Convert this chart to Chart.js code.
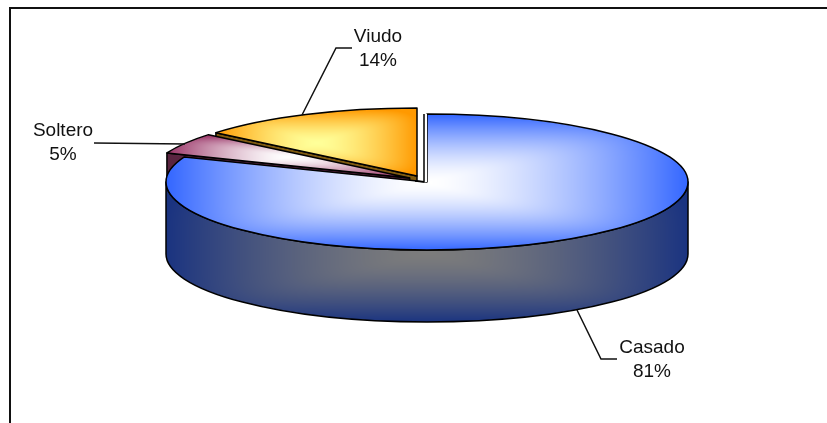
<!DOCTYPE html>
<html>
<head>
<meta charset="utf-8">
<title>Estado civil</title>
<script src="https://cdn.jsdelivr.net/npm/chart.js@4/dist/chart.umd.min.js"></script>
<style>
    html, body { margin: 0; padding: 0; background: #fff; }
    canvas { display: block; }
</style>
</head>
<body>
<canvas id="pieChart" width="827" height="423"></canvas>
<script>
// Chart data
const categories = ['Casado', 'Soltero', 'Viudo'];
const percentages = [81, 5, 14];

// Pie geometry: ellipse centre, radii and height of the wall
const CENTER_X = 427;
const CENTER_Y = 182;
const RADIUS_X = 261;
const RADIUS_Y = 68;
const DEPTH = 72;
const SQUASH = RADIUS_Y / RADIUS_X;

// Exploded slices, pixels from the centre
const sliceShift = [[0, 0], [-17.4, -4], [-10, -6]];
// Bounding boxes of the shaded faces
const topBoxes = [[166, 114, 522, 136], [167, 135, 243, 43], [216, 109, 201, 67]];
const wallBox = [166, 182, 522, 140];
const topColors = [
    [[255, 255, 255], [51, 102, 255]],
    [[255, 255, 255], [153, 51, 102]],
    [[255, 255, 153], [255, 153, 0]]
];
const wallColors = [[124, 124, 124], [26, 51, 128]];
const cutFaceColors = ['#1a3380', '#5a2440', '#7f5a10'];

// Label text positions and leader lines
const labelPos = [[652, 353], [63, 136], [378, 42]];
const leaderLines = [
    [[577, 310], [601, 359], [617, 359]],
    [[94, 143], [185, 144]],
    [[302, 115], [336, 48], [352, 48]]
];

// Rounded-box "from centre" gradient, painted into a small canvas
function boxGradient(box, inner, outer) {
    const w = box[2], h = box[3];
    const tile = document.createElement('canvas');
    tile.width = w;
    tile.height = h;
    const tileCtx = tile.getContext('2d');
    const img = tileCtx.createImageData(w, h);
    for (let y = 0; y < h; y++) {
        for (let x = 0; x < w; x++) {
            const u = Math.abs(2 * x / w - 1);
            const v = Math.abs(2 * y / h - 1);
            const d = Math.pow(Math.pow(u, 6) + Math.pow(v, 6), 1 / 6);
            // stays pale around the middle and darkens towards the rim
            const t = Math.pow(Math.min(1, d), 1.5);
            const p = (y * w + x) * 4;
            for (let c = 0; c < 3; c++) {
                img.data[p + c] = inner[c] + (outer[c] - inner[c]) * t;
            }
            img.data[p + 3] = 255;
        }
    }
    tileCtx.putImageData(img, 0, 0);
    return document.createElement('canvas').getContext('2d').createPattern(tile, 'no-repeat');
}

// The top faces are drawn under a vertical squash, so undo it for the pattern
const topFills = topBoxes.map((box, i) => {
    const pattern = boxGradient(box, topColors[i][0], topColors[i][1]);
    const matrix = new DOMMatrix()
        .translate(box[0] - sliceShift[i][0], CENTER_Y + (box[1] - CENTER_Y - sliceShift[i][1]) / SQUASH)
        .scale(1, 1 / SQUASH);
    pattern.setTransform(matrix);
    return pattern;
});
const wallFill = boxGradient(wallBox, wallColors[0], wallColors[1]);
wallFill.setTransform(new DOMMatrix().translate(wallBox[0], wallBox[1]));

function wallPath(ctx, x, y) {
    ctx.beginPath();
    ctx.ellipse(x, y, RADIUS_X, RADIUS_Y, 0, 0, Math.PI);
    ctx.lineTo(x - RADIUS_X, y + DEPTH);
    ctx.ellipse(x, y + DEPTH, RADIUS_X, RADIUS_Y, 0, Math.PI, 0, true);
    ctx.closePath();
}

// Flat face where a slice was cut away from the rest of the pie
function drawCutFace(ctx, x, y, angle, color) {
    const ex = x + RADIUS_X * Math.cos(angle);
    const ey = y + RADIUS_Y * Math.sin(angle);
    ctx.beginPath();
    ctx.moveTo(x, y);
    ctx.lineTo(ex, ey);
    ctx.lineTo(ex, ey + DEPTH);
    ctx.lineTo(x, y + DEPTH);
    ctx.closePath();
    ctx.fillStyle = color;
    ctx.fill();
    ctx.stroke();
}

function drawSlice(ctx, arc, i) {
    const x = arc.x + sliceShift[i][0];
    const y = arc.y + sliceShift[i][1];

    ctx.lineWidth = 1.5;
    ctx.strokeStyle = '#000';
    ctx.lineJoin = 'round';

    if (i === 0) {
        wallPath(ctx, x, y);
        ctx.fillStyle = wallFill;
        ctx.fill();
        ctx.stroke();
    } else {
        drawCutFace(ctx, x, y, arc.startAngle, cutFaceColors[i]);
    }

    // Top face comes from the library's own arc element
    ctx.save();
    ctx.translate(x, y);
    ctx.scale(1, SQUASH);
    ctx.translate(-arc.x, -arc.y);
    arc.draw(ctx);
    ctx.restore();

    ctx.beginPath();
    ctx.moveTo(x, y);
    ctx.ellipse(x, y, RADIUS_X, RADIUS_Y, 0, arc.startAngle, arc.endAngle);
    ctx.closePath();
    ctx.stroke();

    if (i === 0) {
        // thin white edge along the vertical cut of the big slice
        ctx.fillStyle = '#fff';
        ctx.fillRect(x - 3, y - RADIUS_Y, 3, RADIUS_Y);
        ctx.beginPath();
        ctx.moveTo(x - 3, y - RADIUS_Y);
        ctx.lineTo(x - 3, y);
        ctx.lineTo(x - 12, y - 1);
        ctx.stroke();
    }
}

const frameAndLabels = {
    id: 'frameAndLabels',
    beforeDraw(chart) {
        // Only the top and left sides of the frame are visible
        const ctx = chart.ctx;
        ctx.save();
        ctx.strokeStyle = '#111';
        ctx.lineWidth = 2;
        ctx.beginPath();
        ctx.moveTo(10, 423);
        ctx.lineTo(10, 8);
        ctx.lineTo(827, 8);
        ctx.stroke();
        ctx.restore();
    },
    beforeDatasetsDraw(chart) {
        const ctx = chart.ctx;
        const arcs = chart.getDatasetMeta(0).data;
        // back to front
        [2, 1, 0].forEach(i => {
            ctx.save();
            drawSlice(ctx, arcs[i], i);
            ctx.restore();
        });
        return false;
    },
    afterDraw(chart) {
        const ctx = chart.ctx;
        ctx.save();
        ctx.strokeStyle = '#111';
        ctx.lineWidth = 1.5;
        leaderLines.forEach(line => {
            ctx.beginPath();
            line.forEach((p, n) => (n ? ctx.lineTo(p[0], p[1]) : ctx.moveTo(p[0], p[1])));
            ctx.stroke();
        });
        ctx.fillStyle = '#111';
        ctx.font = '19px "Liberation Sans", Arial, sans-serif';
        ctx.textAlign = 'center';
        categories.forEach((name, i) => {
            ctx.fillText(name, labelPos[i][0], labelPos[i][1]);
            ctx.fillText(percentages[i] + '%', labelPos[i][0], labelPos[i][1] + 24);
        });
        ctx.restore();
    }
};

new Chart(document.getElementById('pieChart'), {
    type: 'pie',
    data: {
        labels: categories,
        datasets: [{
            data: percentages,
            backgroundColor: topFills,
            borderWidth: 0,
            radius: RADIUS_X
        }]
    },
    options: {
        responsive: false,
        animation: false,
        // centres the pie on CENTER_X / CENTER_Y
        layout: { padding: { left: 27, bottom: 59 } },
        plugins: {
            legend: { display: false },
            tooltip: { enabled: false }
        }
    },
    plugins: [frameAndLabels]
});
</script>
</body>
</html>
